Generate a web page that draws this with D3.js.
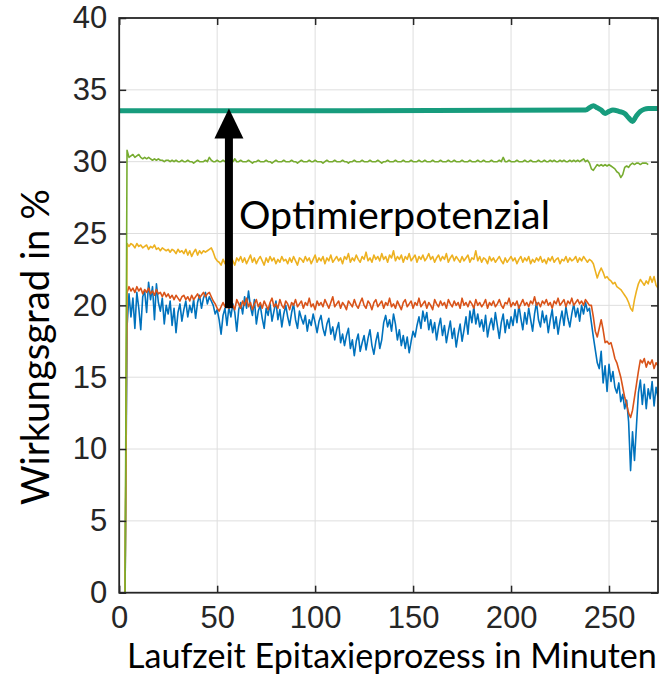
<!DOCTYPE html>
<html>
<head>
<meta charset="utf-8">
<script src="https://cdn.jsdelivr.net/npm/d3@7"></script>
<style>
  body { margin: 0; background: #fff; }
</style>
</head>
<body>
<div id="chart"></div>
<script>
// Wirkungsgrad over process time, one value per minute starting at minute 3
var tStart = 3;
var xTicks = [0, 50, 100, 150, 200, 250];
var yTicks = [0, 5, 10, 15, 20, 25, 30, 35, 40];

var blueVals = [0,
 18.5,20.8,19.2,20.5,18.4,20.9,19.8,18.3,20.6,21.0,19.5,21.6,20.4,21.3,19.0,21.5,20.2,19.6,20.5,18.7,
 20.0,19.4,20.3,18.6,19.8,18.1,19.5,20.1,18.9,19.7,20.3,19.2,20.0,19.5,20.4,19.1,20.2,20.7,19.8,20.5,
 20.9,20.1,20.6,20.3,20.0,19.4,19.7,19.0,18.0,19.3,19.8,18.6,19.9,19.2,20.1,19.5,18.2,19.7,20.2,19.4,
 20.6,19.8,21.0,19.9,19.3,20.4,18.7,19.6,20.0,19.1,18.4,19.8,19.3,20.1,18.9,19.6,20.3,19.0,19.7,18.5,
 19.4,20.0,19.2,18.6,19.5,20.1,19.0,18.4,19.6,19.1,18.7,19.3,18.2,19.0,18.6,19.4,18.8,18.1,18.9,19.3,
 18.4,17.9,18.7,19.1,18.0,18.5,17.6,18.3,18.8,17.4,18.0,17.2,17.9,18.4,17.0,17.6,16.5,17.5,18.0,16.8,
 17.4,17.9,16.9,17.7,18.3,17.2,16.6,17.5,18.1,17.0,17.6,18.8,19.3,18.5,19.0,18.2,19.4,18.7,17.6,18.3,
 17.2,17.9,17.0,17.8,16.7,17.5,18.2,17.8,18.6,19.2,18.4,19.6,18.9,19.5,18.3,19.0,18.1,18.8,17.6,18.5,
 19.1,17.9,18.6,17.4,18.2,18.9,17.7,18.4,17.1,18.0,18.7,17.5,18.3,19.2,18.0,19.6,18.8,19.9,18.7,19.4,
 18.5,19.0,18.2,19.3,17.8,18.6,19.1,18.3,19.5,18.6,17.7,18.8,19.4,18.1,19.0,18.4,19.2,18.6,19.7,18.8,
 20.0,19.1,18.3,19.5,18.7,19.8,19.0,18.2,19.4,20.2,19.0,18.5,19.6,18.8,19.3,18.1,19.0,19.7,18.4,19.2,
 18.0,18.9,19.6,18.6,19.9,19.1,18.5,19.4,20.1,19.2,19.8,18.9,20.0,19.4,20.2,19.6,19.8,18.8,17.8,16.9,
 16.0,15.6,16.8,14.6,15.8,14.0,15.9,14.7,15.4,14.3,13.9,14.6,13.3,13.8,12.8,13.4,11.9,8.5,11.2,9.2,
 11.6,13.9,14.8,13.1,14.5,12.8,14.2,13.5,14.7,13.0,14.3,13.6];

var orangeVals = [0,
 20.9,21.3,21.0,21.2,20.9,21.3,21.0,21.2,20.8,21.1,20.9,21.2,20.8,21.0,20.7,21.1,20.8,20.9,20.6,20.9,
 20.6,20.8,20.5,20.7,20.4,20.7,20.5,20.3,20.6,20.7,20.4,20.6,20.3,20.7,20.4,20.6,20.8,20.5,20.7,20.9,
 20.6,20.8,20.9,20.6,20.3,20.1,19.8,19.6,19.9,20.2,
 19.9,20.3,19.8,20.2,20.0,19.7,20.4,20.1,19.8,20.3, 20.0,20.5,19.9,20.2,19.7,20.1,20.4,19.9,20.2,19.8,
 20.3,20.0,19.7,20.2,20.5,19.9,20.1,19.8,20.4,20.0, 19.8,20.3,20.1,19.7,20.2,20.0,20.4,19.9,20.1,20.3,
 19.8,20.2,20.0,20.5,19.9,20.1,19.7,20.3,20.0,20.2, 19.9,20.4,20.1,19.8,20.2,20.6,19.9,20.1,20.3,19.8,
 20.2,20.0,19.7,20.3,20.1,19.9,20.4,20.0,19.8,20.2, 20.5,20.0,19.8,20.3,20.1,19.7,20.2,20.4,19.9,20.1,
 20.3,19.8,20.2,20.0,20.5,19.9,20.1,19.8,20.3,20.0, 19.7,20.2,20.4,19.9,20.1,20.3,19.8,20.2,20.0,20.5,
 19.9,20.1,20.3,19.8,20.2,20.0,19.7,20.4,20.1,19.9, 20.3,20.0,20.2,19.8,20.4,20.1,19.9,20.3,20.0,20.2,
 19.8,20.5,20.0,20.2,19.9,20.3,20.1,19.8,20.4,20.0, 20.2,19.9,20.1,20.4,19.8,20.2,20.0,20.3,19.9,20.1,
 20.4,20.0,19.8,20.2,20.1,20.5,19.9,20.2,20.0,20.3, 19.8,20.1,20.4,20.0,20.2,19.9,20.3,20.1,20.6,20.0,
 20.2,19.9,20.3,20.1,20.4,20.0,20.2,19.8,20.3,20.1, 20.5,20.0,20.2,20.4,19.9,20.3,20.1,20.5,20.0,20.2,
 20.4,20.1,20.3,20.0,20.4,20.2,20.0,
 20.0,19.2,18.2,17.8,18.4,19.0,18.3,17.4,17.5,17.3,17.4,16.9,16.3,16.0,15.5,15.0,14.3,13.6,13.1,12.5,
 12.2,12.7,13.6,14.5,15.4,16.2,16.0,16.3,15.7,16.1,15.9,16.2,15.6,16.0,15.8];

var yellowVals = [0,
 24.3,24.1,24.3,24.2,24.0,24.3,24.1,24.2,24.0,
 24.1,24.2,23.9,24.1,24.0,24.2,23.9,24.0,23.8,24.0,
 23.9,23.8,23.9,23.7,23.9,23.8,23.6,23.9,23.7,23.8,
 23.6,23.9,23.5,23.8,23.4,23.7,23.9,23.5,23.8,23.6,
 23.8,23.7,23.8,23.9,24.0,23.7,23.3,23.1,23.0,22.8,
 23.2,22.9,23.3,23.0,23.4,23.1,22.8,23.3,23.1,23.4, 23.0,23.3,22.9,23.2,23.5,23.0,23.3,22.9,23.2,23.4,
 23.1,22.8,23.3,23.0,23.4,23.1,23.3,22.9,23.2,23.0, 23.4,23.1,23.2,22.9,23.3,23.0,23.4,23.1,22.8,23.3,
 23.2,23.0,23.4,23.1,23.3,22.9,23.2,23.5,23.0,23.3, 23.1,23.4,22.9,23.3,23.1,23.5,23.0,23.2,23.4,23.1,
 23.3,22.9,23.4,23.2,23.6,23.0,23.3,23.1,23.5,23.2, 23.0,23.4,23.2,23.7,23.1,23.3,23.0,23.5,23.2,23.4,
 23.1,23.6,23.2,23.4,23.0,23.5,23.3,23.8,23.1,23.4, 23.2,23.5,23.0,23.4,23.2,23.6,23.1,23.3,23.5,23.0,
 23.4,23.2,23.5,23.1,23.3,23.6,23.2,23.4,23.0,23.3, 23.5,23.1,23.4,23.2,23.6,23.0,23.3,23.5,23.1,23.4,
 23.2,23.0,23.4,23.1,23.3,23.5,23.0,23.3,23.2,23.8, 23.1,23.4,23.0,23.3,23.2,22.9,23.4,23.1,23.3,23.0,
 23.2,23.4,23.1,22.9,23.3,23.0,23.2,23.4,23.1,23.3, 22.9,23.2,23.4,23.0,23.3,23.1,23.4,22.9,23.2,23.0,
 23.3,23.1,23.4,23.0,23.2,22.9,23.3,23.1,23.4,23.0, 23.2,23.3,22.9,23.2,23.1,23.4,23.0,23.3,23.1,23.2,
 23.4,23.0,23.3,23.1,23.4,23.2,23.0,23.2,
 23.1,22.9,22.4,21.9,22.3,22.6,22.3,21.9,22.0,21.8,21.7,21.5,21.6,21.3,21.2,21.1,20.9,20.7,20.5,20.2,
 19.8,19.6,20.4,21.0,21.5,21.8,21.6,21.4,21.7,21.5,22.0,21.6,22.0,21.4,21.2];

var greenVals = [0,
 30.8,30.3,30.4,30.5,30.3,30.4,30.5,30.3,30.2,30.3,30.2,30.3,30.2,30.1,30.2,30.1,30.2,30.1,30.1,30.0,
 30.1,30.1,30.0,30.1,30.0,30.1,30.0,30.0,30.1,30.0,30.0,30.1,30.0,30.0,29.9,30.0,30.1,30.0,30.0,30.0,
 30.1,30.0,30.3,30.1,30.0,30.0,30.1,30.0,30.0,30.1,30.0,30.0,30.0,30.1,30.0,30.2,30.0,30.0,30.1,30.0,
 30.0,30.0,30.1,30.0,29.9,30.0,30.0,30.1,30.0,30.0,30.0,30.1,30.0,30.0,29.9,30.0,30.1,30.0,30.0,30.0,
 30.1,30.0,30.0,30.0,30.1,30.0,30.0,29.9,30.0,30.1,30.0,30.0,30.0,30.1,30.0,30.0,30.1,30.0,30.0,30.0,
 29.9,30.0,30.1,30.0,30.0,30.0,30.1,30.0,30.0,30.0,30.1,30.0,30.0,29.9,30.0,30.0,30.1,30.0,30.0,30.0,
 30.1,30.0,30.0,30.0,30.1,30.0,30.0,30.0,30.1,30.0,29.9,30.0,30.0,30.1,30.0,30.0,30.0,30.1,30.0,30.0,
 30.0,30.1,30.0,30.0,30.0,30.1,30.0,30.0,30.0,30.1,30.0,30.0,30.1,30.0,30.0,30.0,30.1,30.0,30.0,30.0,
 30.1,30.0,30.0,30.0,30.1,30.0,30.0,30.1,30.0,30.0,30.0,30.1,30.0,30.0,30.0,30.1,30.0,30.0,30.0,30.1,
 30.0,30.0,30.1,30.0,30.0,30.0,30.1,30.0,30.0,30.0,30.1,30.0,30.3,30.0,30.0,30.1,30.0,30.0,30.0,30.1,
 30.0,30.0,30.0,30.1,30.0,30.0,30.1,30.0,30.0,30.0,30.1,30.0,30.0,30.1,30.0,30.0,30.1,30.0,30.1,30.0,
 30.0,30.1,30.0,30.1,30.0,30.0,30.1,30.0,30.1,30.0,30.1,30.0,30.1,30.2,30.0,30.1,29.9,29.5,29.4,29.6,
 29.8,29.7,29.8,29.7,29.8,29.7,29.8,29.7,29.6,29.5,29.3,29.2,28.9,29.1,29.6,29.7,29.6,29.8,29.9,29.8,
 29.9,29.9,29.8,29.9,29.9,29.9,29.8];

// the thick reference line, given as [minute, value] points
var refPoints = [[0, 33.55], [120, 33.55], [238, 33.6], [242, 33.9], [244, 33.75], [246, 33.6],
 [248, 33.35], [250, 33.5], [252, 33.6], [255, 33.5], [258, 33.35], [260, 33.05], [262, 32.8],
 [264, 33.2], [266, 33.5], [268, 33.65], [270, 33.7], [275, 33.7]];

// arrow: minute, from, to
var arrowX = 56;
var arrowFrom = 19.8;
var arrowTo = 33.7;

var W = 661, H = 697;
var margin = {top: 18, right: 3, bottom: 104.3, left: 119.2};
var width = W - margin.left - margin.right;
var height = H - margin.top - margin.bottom;

var x = d3.scaleLinear().domain([0, 275]).range([0, width]);
var y = d3.scaleLinear().domain([0, 40]).range([height, 0]);

var svg = d3.select("#chart").append("svg")
    .attr("width", W)
    .attr("height", H)
    .style("display", "block");

var g = svg.append("g")
    .attr("transform", "translate(" + margin.left + "," + margin.top + ")");

// grid
g.append("g").selectAll("line")
    .data(xTicks.slice(1))
    .enter().append("line")
    .attr("x1", function(d){ return x(d); })
    .attr("x2", function(d){ return x(d); })
    .attr("y1", 0).attr("y2", height)
    .attr("stroke", "#dedede").attr("stroke-width", 1);

g.append("g").selectAll("line")
    .data(yTicks.slice(1, -1))
    .enter().append("line")
    .attr("y1", function(d){ return y(d); })
    .attr("y2", function(d){ return y(d); })
    .attr("x1", 0).attr("x2", width)
    .attr("stroke", "#dedede").attr("stroke-width", 1);

g.append("clipPath").attr("id", "clip")
    .append("rect").attr("width", width).attr("height", height);

var plot = g.append("g").attr("clip-path", "url(#clip)");

var line = d3.line()
    .x(function(d, i){ return x(tStart + i); })
    .y(function(d){ return y(d); });

var series = [
    {vals: blueVals, color: "#0072BD"},
    {vals: orangeVals, color: "#D95319"},
    {vals: yellowVals, color: "#EDB120"},
    {vals: greenVals, color: "#77AC30"}
];

series.forEach(function(s){
    plot.append("path")
        .attr("d", line(s.vals))
        .attr("fill", "none")
        .attr("stroke", s.color)
        .attr("stroke-width", 1.6)
        .attr("stroke-linejoin", "round");
});

var refLine = d3.line()
    .x(function(d){ return x(d[0]); })
    .y(function(d){ return y(d[1]); })
    .curve(d3.curveMonotoneX);

plot.append("path")
    .attr("d", refLine(refPoints))
    .attr("fill", "none")
    .attr("stroke", "#179C7D")
    .attr("stroke-width", 5)
    .attr("stroke-linejoin", "round");

// axes: ticks inside, on all four sides
var axisColor = "#262626";
var tickLen = 7;
var tickFont = "'Liberation Sans', Arial, sans-serif";

var xAxis = d3.axisBottom(x).tickValues(xTicks).tickSize(-tickLen).tickPadding(13);
var yAxis = d3.axisLeft(y).tickValues(yTicks).tickSize(-tickLen).tickPadding(12);

function styleAxis(a){
    a.select(".domain").remove();
    a.selectAll("line").attr("stroke", axisColor).attr("stroke-width", 1.5);
    a.selectAll("text")
        .style("font-family", tickFont)
        .style("font-size", "31px")
        .attr("fill", axisColor);
}

g.append("g")
    .attr("transform", "translate(0," + height + ")")
    .call(xAxis)
    .call(styleAxis);

g.append("g")
    .call(yAxis)
    .call(styleAxis);

g.append("g")
    .call(d3.axisTop(x).tickValues(xTicks).tickSize(-tickLen).tickFormat(""))
    .call(styleAxis);

g.append("g")
    .attr("transform", "translate(" + width + ",0)")
    .call(d3.axisRight(y).tickValues(yTicks).tickSize(-tickLen).tickFormat(""))
    .call(styleAxis);

g.append("rect")
    .attr("width", width).attr("height", height)
    .attr("fill", "none")
    .attr("stroke", axisColor)
    .attr("stroke-width", 1.8);

// arrow
var ax = x(arrowX);
var headLen = 30, headW = 29, shaftW = 8;
g.append("rect")
    .attr("x", ax - shaftW / 2)
    .attr("y", y(arrowTo) + headLen - 2)
    .attr("width", shaftW)
    .attr("height", y(arrowFrom) - y(arrowTo) - headLen + 2)
    .attr("fill", "#000");
g.append("path")
    .attr("d", "M" + ax + "," + y(arrowTo) +
               "L" + (ax + headW / 2) + "," + (y(arrowTo) + headLen) +
               "L" + (ax - headW / 2) + "," + (y(arrowTo) + headLen) + "Z")
    .attr("fill", "#000");

// labels
function fitText(sel, target){
    var w = sel.node().getComputedTextLength();
    var fs = parseFloat(sel.attr("font-size"));
    sel.attr("font-size", fs * target / w);
}

var labelFont = "Lato, 'Open Sans', sans-serif";

var note = svg.append("text")
    .attr("x", 239)
    .attr("y", 229)
    .attr("font-family", labelFont)
    .attr("font-size", 40)
    .attr("fill", "#000")
    .text("Optimierpotenzial");
fitText(note, 311);

var xl = svg.append("text")
    .attr("x", 127)
    .attr("y", 668)
    .attr("font-family", labelFont)
    .attr("font-size", 34)
    .attr("fill", "#000")
    .text("Laufzeit Epitaxieprozess in Minuten");
fitText(xl, 530);

var yl = svg.append("text")
    .attr("transform", "translate(49,347) rotate(-90)")
    .attr("text-anchor", "middle")
    .attr("font-family", labelFont)
    .attr("font-size", 34)
    .attr("fill", "#000")
    .text("Wirkungsgrad in %");
fitText(yl, 316);
</script>
</body>
</html>
